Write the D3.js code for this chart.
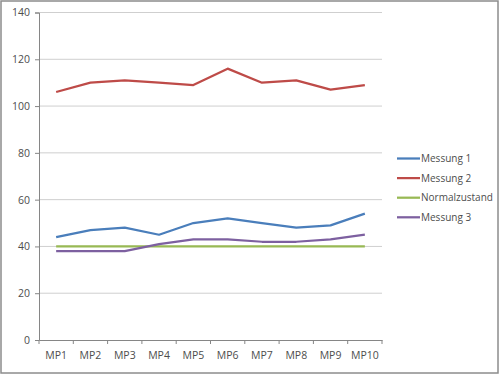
<!DOCTYPE html>
<html>
<head>
<meta charset="utf-8">
<script src="https://cdn.jsdelivr.net/npm/d3@7"></script>
<style>
  body { margin: 0; background: #fff; }
  svg { display: block; font-family: "Open Sans", "Liberation Sans", sans-serif; }
</style>
</head>
<body>
<svg id="chart" width="500" height="375"></svg>
<script>
// Line chart: three measurements plus the normal state over 10 measuring points.

const categories = ["MP1", "MP2", "MP3", "MP4", "MP5", "MP6", "MP7", "MP8", "MP9", "MP10"];
const messung1 = [44, 47, 48, 45, 50, 52, 50, 48, 49, 54];
const messung2 = [106, 110, 111, 110, 109, 116, 110, 111, 107, 109];
const normalzustand = [40, 40, 40, 40, 40, 40, 40, 40, 40, 40];
const messung3 = [38, 38, 38, 41, 43, 43, 42, 42, 43, 45];
const yTicks = [0, 20, 40, 60, 80, 100, 120, 140];

const series = [
  { name: "Messung 1", values: messung1, color: "#4a7ebb" },
  { name: "Messung 2", values: messung2, color: "#be4b48" },
  { name: "Normalzustand", values: normalzustand, color: "#98b954" },
  { name: "Messung 3", values: messung3, color: "#7d60a0" },
];

const svg = d3.select("#chart");
const plot = { left: 39, right: 382, top: 12.5, bottom: 340 };

// Outer frame of the chart.
svg.append("rect")
  .attr("x", 1).attr("y", 1)
  .attr("width", 497).attr("height", 372)
  .attr("fill", "#fff")
  .attr("stroke", "#8c8c8c")
  .attr("stroke-width", 1.5);

const x = d3.scaleBand().domain(categories).range([plot.left, plot.right]);
const y = d3.scaleLinear().domain([0, 140]).range([plot.bottom, plot.top]);

// Horizontal gridlines.
svg.append("g")
  .selectAll("line")
  .data(yTicks.filter((t) => t > 0))
  .join("line")
  .attr("x1", plot.left).attr("x2", plot.right)
  .attr("y1", (d) => y(d)).attr("y2", (d) => y(d))
  .attr("stroke", "#cfcfcf")
  .attr("stroke-width", 1);

// Y axis.
const yAxis = svg.append("g")
  .attr("transform", `translate(${plot.left},0)`)
  .call(d3.axisLeft(y).tickValues(yTicks).tickSize(4).tickPadding(5));

// X axis, ticks sit between the categories.
const xAxis = svg.append("g")
  .attr("transform", `translate(0,${plot.bottom})`)
  .call(d3.axisBottom(x).tickSize(0).tickPadding(12));

xAxis.append("g")
  .selectAll("line")
  .data(categories.map((c) => x(c)).concat([plot.right]))
  .join("line")
  .attr("x1", (d) => d).attr("x2", (d) => d)
  .attr("y1", 0).attr("y2", 4)
  .attr("stroke", "#868686");

for (const g of [yAxis, xAxis]) {
  g.select(".domain").attr("stroke", "#868686");
  g.selectAll(".tick line").attr("stroke", "#868686");
  g.selectAll("text")
    .attr("fill", "#4d4d4d")
    .style("font-size", "10.5px")
    .style("font-family", "'Open Sans', 'Liberation Sans', sans-serif");
}

// Series lines.
const line = d3.line()
  .x((d, i) => x(categories[i]) + x.bandwidth() / 2)
  .y((d) => y(d));

svg.append("g")
  .selectAll("path")
  .data(series)
  .join("path")
  .attr("d", (s) => line(s.values))
  .attr("fill", "none")
  .attr("stroke", (s) => s.color)
  .attr("stroke-width", 2.25)
  .attr("stroke-linejoin", "round");

// Legend on the right.
const legend = svg.append("g")
  .selectAll("g")
  .data(series)
  .join("g")
  .attr("transform", (d, i) => `translate(397,${158.5 + i * 19.6})`);

legend.append("line")
  .attr("x1", 0).attr("x2", 23)
  .attr("stroke", (d) => d.color)
  .attr("stroke-width", 2.25);

legend.append("text")
  .attr("x", 24)
  .attr("dy", "0.35em")
  .attr("fill", "#4d4d4d")
  .style("font-size", "10px")
  .text((d) => d.name);
</script>
</body>
</html>
